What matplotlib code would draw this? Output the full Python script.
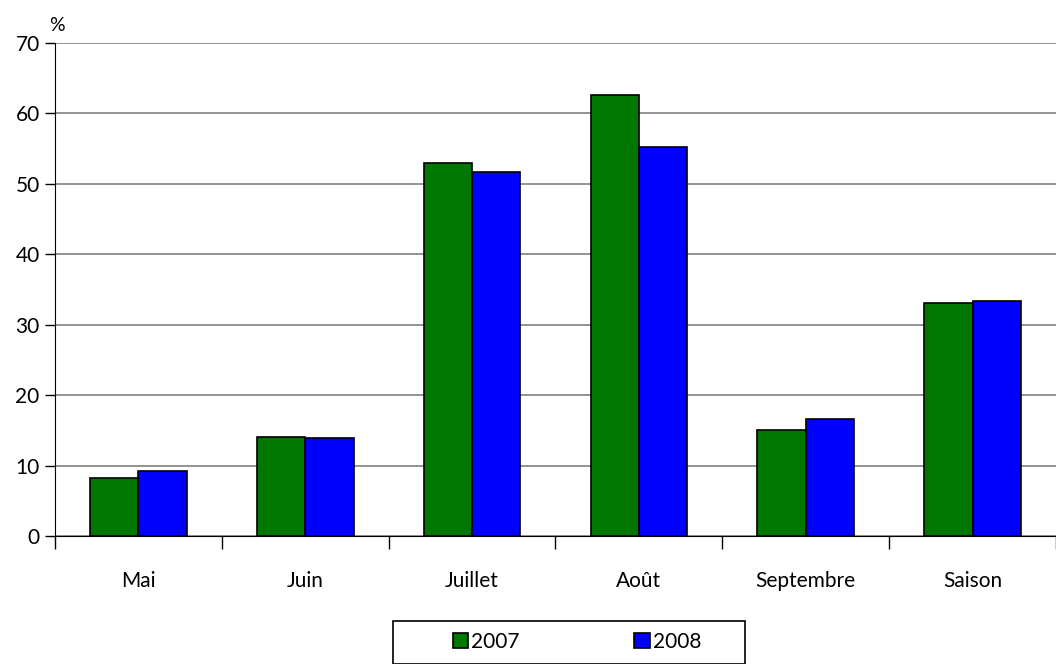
import matplotlib.pyplot as plt
from matplotlib.patches import Rectangle
import numpy as np

# Données
mois = ["Mai", "Juin", "Juillet", "Août", "Septembre", "Saison"]
val_2007 = [8.2, 14.1, 53.0, 62.6, 15.1, 33.1]
val_2008 = [9.2, 13.9, 51.7, 55.2, 16.6, 33.4]
yticks = [0, 10, 20, 30, 40, 50, 60, 70]

plt.rcParams["font.family"] = ["Lato", "DejaVu Sans"]

W, H = 1056, 664
fig = plt.figure(figsize=(W / 100, H / 100), dpi=100)
ax = fig.add_axes([55 / W, (H - 536) / H, 1001 / W, (536 - 43) / H])

x = np.arange(len(mois))
larg = 0.29
ax.bar(x - larg / 2, val_2007, larg, color="#007700", edgecolor="black",
       linewidth=1.2, label="2007", zorder=3)
ax.bar(x + larg / 2, val_2008, larg, color="#0000ff", edgecolor="black",
       linewidth=1.2, label="2008", zorder=3)

ax.set_xlim(-0.5, len(mois) - 0.5)
ax.set_ylim(0, 70)
ax.set_yticks(yticks)
ax.set_yticklabels([str(v) for v in yticks], fontsize=15)
ax.yaxis.grid(True, color="#808080", linewidth=1.2, zorder=0)
ax.set_axisbelow(True)

# ticks de l'axe x entre les catégories
ax.set_xticks(np.arange(len(mois) + 1) - 0.5)
ax.set_xticklabels([])
ax.set_xticks(x, minor=True)
ax.set_xticklabels(mois, minor=True, fontsize=15)
ax.tick_params(axis="x", which="minor", length=0, pad=25)
ax.tick_params(axis="x", which="major", length=9, width=1, direction="out")
ax.tick_params(axis="y", length=7, width=1, direction="out", pad=4)

for s in ["top", "right"]:
    ax.spines[s].set_visible(False)
ax.spines["left"].set_color("black")
ax.spines["bottom"].set_color("black")

ax.text(0.002, 1.018, "%", transform=ax.transAxes, fontsize=14, ha="center",
        va="bottom")

# légende
fig.patches.append(Rectangle((393 / W, 0), 352 / W, (H - 621) / H,
                             transform=fig.transFigure, fill=False,
                             edgecolor="black", linewidth=1.2))
fig.legend(loc="center", bbox_to_anchor=(577 / W, 1 - 642 / H), ncol=2,
           frameon=False, fontsize=15, handlelength=0.75, handleheight=0.75,
           handletextpad=0.15, columnspacing=5.5)

fig.savefig("out.png", dpi=100)
